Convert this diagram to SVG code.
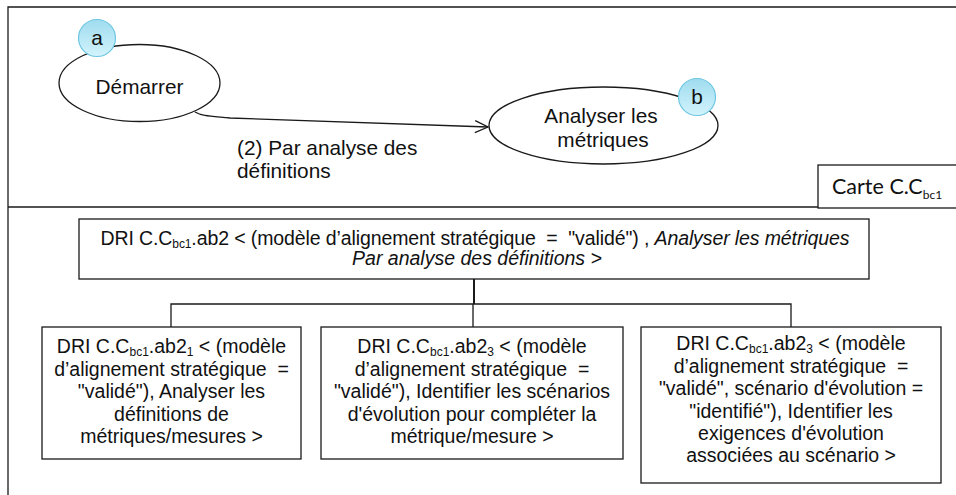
<svg xmlns="http://www.w3.org/2000/svg" width="956" height="495" viewBox="0 0 956 495">
<defs>
<style>
.ln{fill:none;stroke:#1a1a1a;stroke-width:1.3}
.bx{fill:#ffffff;stroke:#1a1a1a;stroke-width:1.3}
.t{font-family:"Liberation Sans",Arial,sans-serif;font-size:20.8px;fill:#111}
.b{font-family:"Liberation Sans",Arial,sans-serif;font-size:19.5px;fill:#111;text-anchor:middle}
.i{font-style:italic}
.s{font-size:12px}
.c{font-family:Lato,"Liberation Sans",sans-serif;font-size:21.5px;fill:#111}
.bub{stroke:#6ec6e2;stroke-width:1.2;fill:url(#g)}
</style>
<linearGradient id="g" x1="0" y1="0" x2="0" y2="1">
<stop offset="0" stop-color="#9fdcef"/>
<stop offset="1" stop-color="#d2f3fc"/>
</linearGradient>
<marker id="arr" markerWidth="16" markerHeight="14" refX="14" refY="7" orient="auto" markerUnits="userSpaceOnUse">
<path d="M1,1 L14,7 L1,13" fill="none" stroke="#1a1a1a" stroke-width="1.3"/>
</marker>
</defs>
<rect width="956" height="495" fill="#ffffff"/>
<g id="frame">
<path class="ln" d="M8,495 L8,7 L956,7"/>
<line class="ln" x1="8" y1="207" x2="956" y2="207"/>
</g>
<g id="connectors">
<path class="ln" d="M195,112 C202,116 210,116 230,118 L488,127" marker-end="url(#arr)"/>
<line x1="474" y1="279" x2="474" y2="304" stroke="#1a1a1a" stroke-width="2"/>
<path class="ln" d="M171,327 L171,304 L791,304 L791,327 M473,304 L473,327"/>
</g>
<g id="label-edge">
<text class="t" x="237" y="155">(2) Par analyse des</text>
<text class="t" x="237" y="178">définitions</text>
</g>
<g id="node-demarrer">
<ellipse class="bx" cx="139.5" cy="83" rx="80.5" ry="38.5"/>
<text class="t" x="139.5" y="94" text-anchor="middle">Démarrer</text>
</g>
<g id="node-a">
<circle class="bub" cx="97" cy="38" r="18.5"/>
<text class="t" x="97" y="45" text-anchor="middle">a</text>
</g>
<g id="node-analyser">
<ellipse class="bx" cx="603.5" cy="125.5" rx="114.5" ry="38.5"/>
<text class="t" x="601" y="123" text-anchor="middle">Analyser les</text>
<text class="t" x="603" y="147" text-anchor="middle">métriques</text>
</g>
<g id="node-b">
<circle class="bub" cx="697" cy="97" r="18.5"/>
<text class="t" x="697" y="104" text-anchor="middle">b</text>
</g>
<g id="carte">
<rect class="bx" x="818" y="165" width="150" height="43"/>
<text class="c" x="832" y="194">Carte C.C<tspan class="s" dy="5">bc1</tspan></text>
</g>
<g id="node-root">
<rect class="bx" x="79" y="219" width="790" height="60"/>
<text class="b" x="475" y="245" textLength="749" lengthAdjust="spacing">DRI C.C<tspan class="s" dy="3">bc1</tspan><tspan dy="-3">.ab2 &lt; (modèle d’alignement stratégique&#160; =&#160; "validé") , </tspan><tspan class="i">Analyser les métriques</tspan></text>
<text class="b i" x="477" y="265">Par analyse des définitions &gt;</text>
</g>
<g id="node-child1">
<rect class="bx" x="42" y="327" width="259" height="132"/>
<text class="b" x="171.5" y="353">DRI C.C<tspan class="s" dy="3">bc1</tspan><tspan dy="-3">.ab2</tspan><tspan class="s" dy="3">1</tspan><tspan dy="-3"> &lt; (modèle</tspan></text>
<text class="b" x="171.5" y="375.5">d’alignement stratégique&#160; =</text>
<text class="b" x="171.5" y="398">"validé"), Analyser les</text>
<text class="b" x="171.5" y="420.5">définitions de</text>
<text class="b" x="171.5" y="443">métriques/mesures &gt;</text>
</g>
<g id="node-child2">
<rect class="bx" x="321" y="327" width="302" height="132"/>
<text class="b" x="472" y="353">DRI C.C<tspan class="s" dy="3">bc1</tspan><tspan dy="-3">.ab2</tspan><tspan class="s" dy="3">3</tspan><tspan dy="-3"> &lt; (modèle</tspan></text>
<text class="b" x="472" y="375.5">d’alignement stratégique&#160; =</text>
<text class="b" x="472" y="398">"validé"), Identifier les scénarios</text>
<text class="b" x="472" y="420.5">d'évolution pour compléter la</text>
<text class="b" x="472" y="443">métrique/mesure &gt;</text>
</g>
<g id="node-child3">
<rect class="bx" x="641" y="327" width="300" height="156"/>
<text class="b" x="791" y="350">DRI C.C<tspan class="s" dy="3">bc1</tspan><tspan dy="-3">.ab2</tspan><tspan class="s" dy="3">3</tspan><tspan dy="-3"> &lt; (modèle</tspan></text>
<text class="b" x="791" y="372.5">d’alignement stratégique&#160; =</text>
<text class="b" x="791" y="395">"validé", scénario d'évolution =</text>
<text class="b" x="791" y="417.5">"identifié"), Identifier les</text>
<text class="b" x="791" y="440">exigences d'évolution</text>
<text class="b" x="791" y="462">associées au scénario &gt;</text>
</g>
</svg>
